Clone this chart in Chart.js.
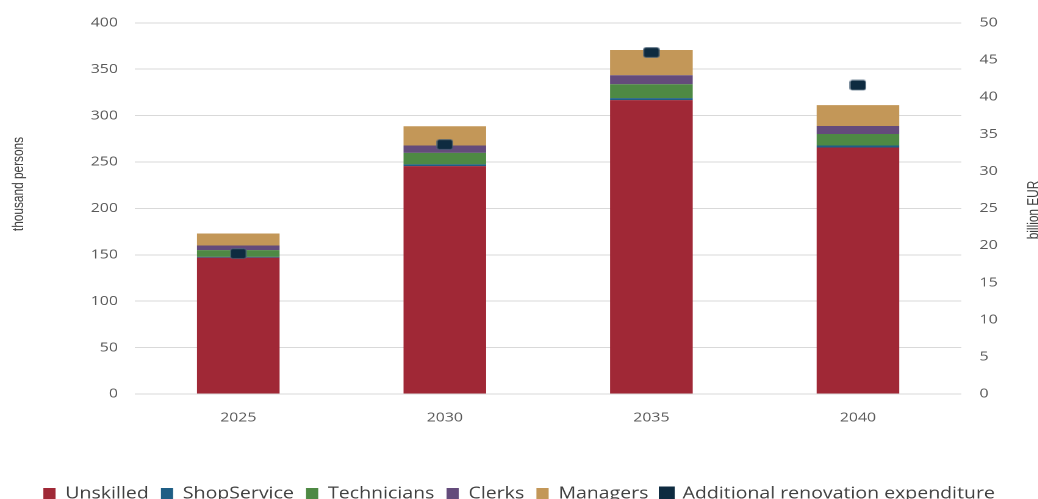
<!DOCTYPE html>
<html><head><meta charset="utf-8">
<script src="https://cdn.jsdelivr.net/npm/chart.js@4.4.1/dist/chart.umd.min.js"></script>
<style>
html,body{margin:0;padding:0;background:#fff;overflow:hidden}
#wrap{position:relative;width:851px;height:512px;transform:scaleX(1.22);transform-origin:0 0}
</style></head><body>
<div id="wrap"><canvas id="c"></canvas></div>
<script>
const categories = ['2025', '2030', '2035', '2040'];
const unskilled = [147.0, 245.6, 316.7, 265.6];
const shopService = [0.8, 1.8, 2.1, 2.2];
const technicians = [7.2, 12.4, 15.0, 12.4];
const clerks = [5.0, 8.0, 9.7, 8.6];
const managers = [13.0, 20.7, 27.2, 22.5];
const renovation = [18.9, 33.6, 46.0, 41.6];
const seriesNames = ['Unskilled', 'ShopService', 'Technicians', 'Clerks', 'Managers', 'Additional renovation expenditure'];
const leftTitle = 'thousand persons';
const rightTitle = 'billion EUR';

const K = 1.22; // horizontal stretch of the whole drawing
const colors = ['#A02836', '#1F5E85', '#4E8944', '#644B7B', '#C39758', '#0E2B40'];

// marker image (appears 17x11 after stretch)
const mk = document.createElement('canvas');
mk.width = 14; mk.height = 11;
(function(){
  const g = mk.getContext('2d');
  g.fillStyle = '#0E2B40';
  g.beginPath();
  if (g.roundRect) g.roundRect(0.5, 0.5, 13, 10, 2); else g.rect(0.5, 0.5, 13, 10);
  g.fill();
  g.strokeStyle = 'rgba(120,140,160,0.45)';
  g.lineWidth = 1;
  g.stroke();
})();

const titlePlugin = {
  id: 'axisTitles',
  afterDraw(chart) {
    const ctx = chart.ctx;
    ctx.save();
    ctx.fillStyle = '#404040';
    ctx.font = '16px "Liberation Sans", Arial, sans-serif';
    ctx.textAlign = 'center';
    ctx.textBaseline = 'middle';
    const draw = (txt, sx, sy) => {
      ctx.save();
      ctx.translate(sx / K, sy);
      ctx.scale(1 / K, 1);
      ctx.rotate(-Math.PI / 2);
      ctx.scale(0.74, 1);
      ctx.fillText(txt, 0, 0);
      ctx.restore();
    };
    draw(leftTitle, 18.5, 184);
    draw(rightTitle, 1034, 210);
    ctx.restore();
  }
};

const barSeries = [unskilled, shopService, technicians, clerks, managers];
const datasets = barSeries.map((arr, i) => ({
  type: 'bar',
  label: seriesNames[i],
  data: arr,
  backgroundColor: colors[i],
  borderWidth: 0,
  yAxisID: 'y',
  stack: 's',
  order: 2,
  categoryPercentage: 1.0,
  barPercentage: 0.4
}));
datasets.push({
  type: 'line',
  label: seriesNames[5],
  data: renovation,
  yAxisID: 'y2',
  showLine: false,
  pointStyle: mk,
  backgroundColor: colors[5],
  borderColor: colors[5],
  order: 1
});

const tickFont = { family: '"Open Sans", sans-serif', size: 13 };
new Chart(document.getElementById('c'), {
  data: { labels: categories, datasets },
  plugins: [titlePlugin],
  options: {
    responsive: true,
    maintainAspectRatio: false,
    devicePixelRatio: 2,
    animation: false,
    events: [],
    layout: { padding: { top: 11, left: 0, right: 0, bottom: 0 } },
    plugins: {
      tooltip: { enabled: false },
      legend: {
        position: 'bottom',
        labels: {
          font: { family: '"Open Sans", sans-serif', size: 16 },
          color: '#404040',
          boxWidth: 10,
          boxHeight: 12,
          padding: 10,
          sort: (a, b) => a.datasetIndex - b.datasetIndex
        }
      }
    },
    scales: {
      x: {
        stacked: true,
        grid: { display: false },
        border: { display: false },
        ticks: { font: tickFont, color: '#595959', padding: 8 },
        afterFit(s) { s.height = 82; }
      },
      y: {
        position: 'left',
        stacked: true,
        min: 0, max: 400,
        ticks: { stepSize: 50, font: tickFont, color: '#595959', padding: 14 },
        grid: { color: '#d9d9d9', drawTicks: false, lineWidth: 1 },
        border: { display: false },
        afterFit(s) { s.width = 135 / K; }
      },
      y2: {
        position: 'right',
        min: 0, max: 50,
        ticks: { stepSize: 5, font: tickFont, color: '#595959', padding: 15 },
        grid: { display: false, drawTicks: false },
        border: { display: false },
        afterFit(s) { s.width = 77 / K; }
      }
    }
  }
});
</script>
</body></html>
